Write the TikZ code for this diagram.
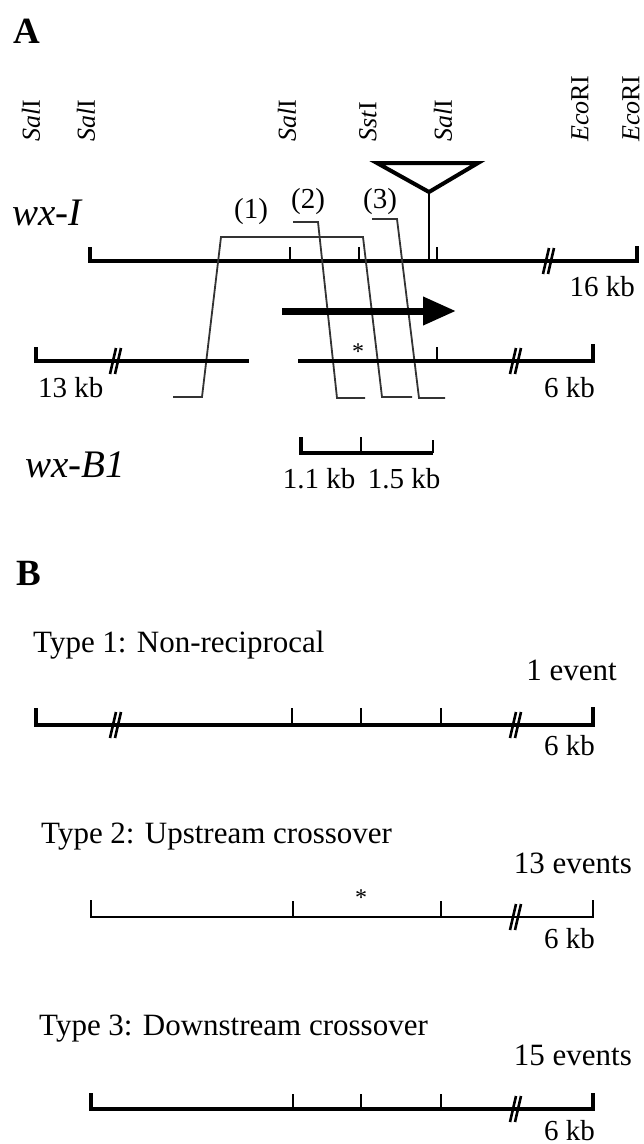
\documentclass[tikz,border=0pt]{standalone}
\usepackage{fontspec}
\setmainfont{Liberation Serif}
\usetikzlibrary{arrows.meta}
\tikzset{
  dna/.style={line width=3.2pt, line cap=butt},
  dnathin/.style={line width=2.2pt},
  tk/.style={line width=2.4pt},
  frag/.style={line width=1.8pt, draw=black!80, line join=miter},
  txt/.style={inner sep=0pt, font=\fontsize{29}{34}\selectfont},
  typ/.style={inner sep=0pt, font=\fontsize{31}{36}\selectfont},
  enz/.style={inner sep=0pt, rotate=90, anchor=west, font=\fontsize{26}{30}\selectfont},
  allele/.style={inner sep=0pt, anchor=base west, font=\fontsize{39}{44}\selectfont\itshape},
  panel/.style={inner sep=0pt, font=\fontsize{37}{42}\selectfont\bfseries},
  star/.style={inner sep=0pt, font=\fontsize{24}{28}\selectfont},
  brk/.pic={\draw[line width=2.6pt] (-6,13) -- (0,-13) (-1,13) -- (5,-13);}
}
\begin{document}
\begin{tikzpicture}[x=1pt,y=-1pt]
\useasboundingbox (0,0) rectangle (644,1144);

% ---------------- Panel A ----------------
\node[panel] (pA) at (27,31) {A};

\node[enz] (e1) at (31,142) {\textit{Sal}I};
\node[enz] (e2) at (86,142) {\textit{Sal}I};
\node[enz] (e3) at (287,142) {\textit{Sal}I};
\node[enz] (e4) at (368,142) {\textit{Sst}I};
\node[enz] (e5) at (443,142) {\textit{Sal}I};
\node[enz] (e6) at (580,142) {\textit{Eco}RI};
\node[enz] (e7) at (631,142) {\textit{Eco}RI};

\node[allele] (wxI) at (12,225) {wx-I};

% wx-I line
\draw[dna] (90,247) -- (90,261) -- (637,261) -- (637,246);
\draw[tk] (290,261) -- (290,247) (359,261) -- (359,247) (437,261) -- (437,247);
\pic at (549,261) {brk};
% insertion
\draw[line width=4pt, line join=miter] (377,163) -- (478,163) -- (429,192) -- cycle;
\draw[line width=2.4pt] (429,192) -- (429,261);
\node[txt, anchor=base east] (kb16) at (635,296) {16 kb};

% fragments
\node[txt] (f1) at (251,212) {(1)};
\node[txt] (f2) at (308,202) {(2)};
\node[txt] (f3) at (380,202) {(3)};
\draw[frag] (173,397) -- (202,397) -- (221,237) -- (363,237) -- (382,397) -- (412,397);
\draw[frag] (293,222) -- (318,222) -- (337,398) -- (365,398);
\draw[frag] (372,219) -- (397,219) -- (419,398) -- (445,398);

% transcription arrow
\coordinate (arS) at (282,311);
\coordinate (arE) at (456,311);
\draw[line width=7pt, -{Triangle[length=33pt,width=27pt]}] (arS) -- (arE);

% lower line
\draw[dna] (36,347) -- (36,361) -- (249,361);
\draw[dna] (298,361) -- (593,361) -- (593,344);
\draw[tk] (437,361) -- (437,347);
\pic at (116,361) {brk};
\pic at (516,361) {brk};
\node[star] (s1) at (358,352) {*};
\node[txt, anchor=base west] (kb13) at (38,397) {13 kb};
\node[txt, anchor=base east] (kb6a) at (595,397) {6 kb};

% wx-B1
\node[allele] (wxB) at (25,477) {wx-B1};
\draw[dna] (301,437) -- (301,453) -- (433,453);
\draw[tk] (361,453) -- (361,437) (433,453) -- (433,440);
\node[txt, anchor=base] (k11) at (319,488) {1.1 kb};
\node[txt, anchor=base] (k15) at (404,488) {1.5 kb};

% ---------------- Panel B ----------------
\node[panel] (pB) at (29,573) {B};

% Type 1
\node[typ, anchor=base west] (t1) at (33,652) {Type 1: Non-reciprocal};
\node[typ, anchor=base east] (n1) at (617,680) {1 event};
\draw[dna] (36,708) -- (36,725) -- (593,725) -- (593,707);
\draw[tk] (292,725) -- (292,708) (361,725) -- (361,708) (441,725) -- (441,708);
\pic at (116,725) {brk};
\pic at (516,725) {brk};
\node[txt, anchor=base east] (kb6b) at (595,755) {6 kb};

% Type 2
\node[typ, anchor=base west] (t2) at (41,843) {Type 2: Upstream crossover};
\node[typ, anchor=base east] (n2) at (632,873) {13 events};
\draw[dnathin] (91,900) -- (91,917) -- (593,917) -- (593,900);
\draw[tk] (293,917) -- (293,901) (441,917) -- (441,901);
\pic at (516,917) {brk};
\node[star] (s2) at (361,898) {*};
\node[txt, anchor=base east] (kb6c) at (595,948) {6 kb};

% Type 3
\node[typ, anchor=base west] (t3) at (39,1035) {Type 3: Downstream crossover};
\node[typ, anchor=base east] (n3) at (632,1065) {15 events};
\draw[dna] (91,1093) -- (91,1109) -- (593,1109) -- (593,1093);
\draw[tk] (293,1109) -- (293,1094) (361,1109) -- (361,1094) (441,1109) -- (441,1094);
\pic at (516,1109) {brk};
\node[txt, anchor=base east] (kb6d) at (595,1140) {6 kb};
\end{tikzpicture}
\end{document}
